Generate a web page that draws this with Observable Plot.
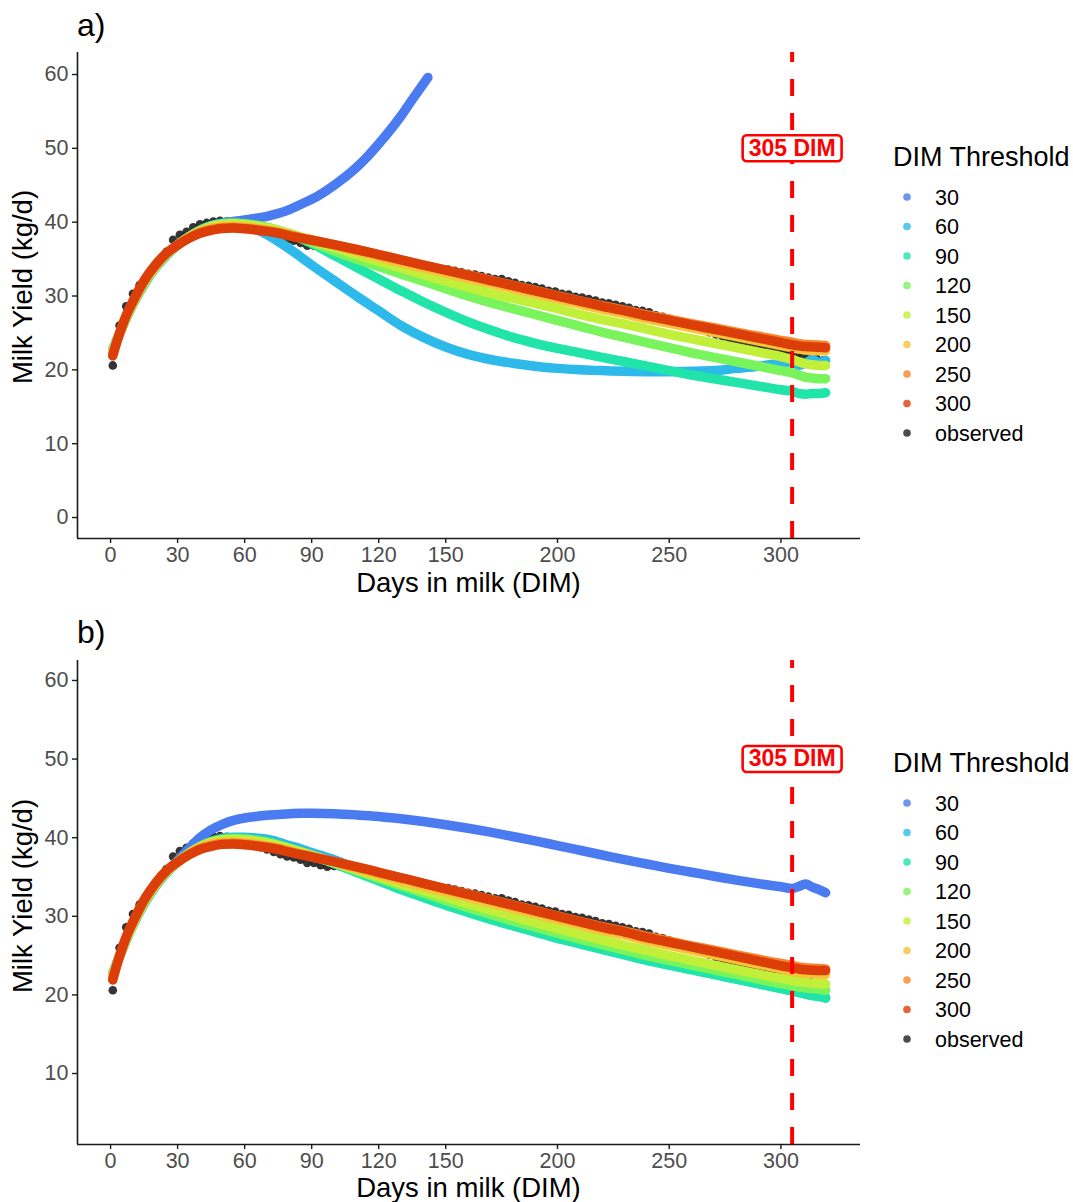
<!DOCTYPE html>
<html><head><meta charset="utf-8">
<script src="https://cdn.jsdelivr.net/npm/d3@7"></script>
<script src="https://cdn.jsdelivr.net/npm/@observablehq/plot@0.6"></script>
<style>
body{margin:0;background:#fff;}
#wrap{position:relative;width:1073px;height:1202px;overflow:hidden;background:#fff;}
#wrap svg{position:absolute;left:0;}
</style></head><body><div id="wrap"></div>
<script>
const FONT = '"Liberation Sans", Arial, Helvetica, sans-serif';
const xTicks = [0, 30, 60, 90, 120, 150, 200, 250, 300];
const yTicksA = [0, 10, 20, 30, 40, 50, 60];
const yTicksB = [10, 20, 30, 40, 50, 60];
const thresholds = ["30", "60", "90", "120", "150", "200", "250", "300"];
const seriesColors = ["#4A7BF0", "#2DBAEB", "#20E4AA", "#7AF45C", "#C2EF3A", "#F8C239", "#F8862C", "#DC3E09"];
const legendLabels = ["30", "60", "90", "120", "150", "200", "250", "300", "observed"];
const legendColors = ["#4A7BF0", "#2DBAEB", "#20E4AA", "#7AF45C", "#C2EF3A", "#F8C239", "#F8862C", "#DC3E09", "#1e1e1e"];
const dimLimit = 305;
const dimLabel = "305 DIM";

// DIM sample points shared by the fitted curves
const dimGrid = [1,3,5,7,10,15,20,25,30, 35,40,45,50,55,60,65,70,75,80,85,90,
  100,110,120,130,140,150,160,170,180,190,200,210,220,230,240,250,260,270,280,290,300,
  305,308,311,314,317,320];
// panel a, threshold 30 (stops early)
const dimA30 = [1,3,5,7,10,15,20,25,30,35,40,45,50,55,60,70,80,85,90,100,110,115,120,130,135,142];
const a30 = [22.7,24.2,25.6,27.0,28.9,31.6,33.8,35.5,36.9,38.0,38.9,39.5,39.9,40.1,40.3,40.8,41.7,42.4,43.1,45.0,47.4,48.9,50.6,54.4,56.6,59.6];
const a60 = [22.7,24.2,25.6,27.0,28.9,31.6,33.8,35.5,36.9,
  38.0,38.9,39.5,39.8,39.9,39.7,39.1,38.3,37.4,36.4,35.3,34.2,
  32.1,30.0,28.0,26.0,24.4,23.1,22.1,21.4,20.9,20.5,20.2,20.0,19.9,19.8,19.75,19.75,19.8,19.9,20.2,20.5,20.9,
  21.1,20.6,20.9,21.4,21.0,21.3];
const a90 = [22.7,24.2,25.6,27.0,28.9,31.6,33.8,35.5,36.9,
  38.0,38.9,39.5,39.8,39.9,39.8,39.6,39.3,38.9,38.4,37.8,37.1,
  35.5,33.9,32.3,30.7,29.2,27.8,26.5,25.4,24.4,23.6,22.9,22.3,21.7,21.1,20.5,19.9,19.3,18.8,18.3,17.8,17.3,
  17.1,16.8,16.7,16.8,16.8,16.9];
const a120 = [22.6,24.2,25.6,27.0,28.9,31.7,33.9,35.6,36.9,
  38.0,38.85,39.45,39.75,39.85,39.75,39.55,39.3,38.9,38.4,37.9,37.3,
  36.1,35.0,34.0,33.0,32.0,31.0,30.0,29.1,28.3,27.5,26.7,25.9,25.1,24.4,23.7,23.0,22.3,21.7,21.1,20.5,19.9,
  19.6,19.3,19.0,18.9,18.8,18.8];
const a150 = [22.5,24.1,25.6,27.1,29.0,31.8,33.9,35.6,36.9,
  38.0,38.8,39.4,39.7,39.8,39.7,39.5,39.25,38.9,38.5,38.0,37.5,
  36.6,35.6,34.7,33.8,32.9,32.0,31.2,30.4,29.7,29.0,28.3,27.5,26.8,26.2,25.5,24.8,24.2,23.6,23.0,22.4,21.8,
  21.4,21.1,20.8,20.7,20.6,20.6];
const a200 = [22.4,24.1,25.7,27.2,29.1,31.9,34.0,35.7,36.9,
  37.9,38.7,39.2,39.4,39.45,39.35,39.2,38.95,38.65,38.3,37.95,37.6,
  36.9,36.1,35.3,34.5,33.8,33.1,32.4,31.7,31.0,30.3,29.6,28.9,28.2,27.6,26.9,26.3,25.7,25.1,24.5,23.9,23.3,
  23.0,22.8,22.7,22.6,22.6,22.6];
const a250 = [22.2,24.0,25.7,27.3,29.2,32.0,34.1,35.75,36.9,
  37.85,38.6,39.0,39.25,39.3,39.2,39.05,38.85,38.6,38.25,37.9,37.6,
  36.95,36.3,35.6,34.9,34.2,33.5,32.85,32.15,31.45,30.75,30.05,29.35,28.7,28.1,27.45,26.85,26.25,25.7,25.1,24.55,24.0,
  23.75,23.55,23.45,23.4,23.35,23.3];
const a300 = [21.9,24.0,25.8,27.4,29.3,32.1,34.2,35.8,36.9,
  37.8,38.5,38.9,39.15,39.2,39.1,38.95,38.75,38.5,38.15,37.85,37.55,
  36.95,36.3,35.6,34.9,34.2,33.5,32.8,32.1,31.4,30.7,30.0,29.3,28.6,28.0,27.3,26.7,26.1,25.5,24.9,24.3,23.7,
  23.4,23.25,23.15,23.1,23.05,23.0];

const b30 = [22.7,24.2,25.6,27.0,28.9,31.6,33.8,35.6,37.1,
  38.6,40.0,41.0,41.7,42.2,42.5,42.7,42.85,42.95,43.05,43.1,43.1,
  43.05,42.9,42.7,42.4,42.05,41.65,41.2,40.7,40.15,39.6,39.0,38.4,37.8,37.2,36.65,36.1,35.6,35.1,34.6,34.15,33.75,
  33.55,33.8,34.1,33.7,33.4,33.0];
const b60 = [22.7,24.2,25.6,27.0,28.9,31.6,33.8,35.5,36.9,
  38.0,38.9,39.5,39.9,40.05,40.05,39.95,39.8,39.45,39.0,38.6,38.1,
  37.2,36.1,35.0,33.8,32.7,31.6,30.6,29.7,28.85,28.05,27.25,26.55,25.85,25.15,24.45,23.85,23.25,22.65,22.05,21.45,20.85,
  20.55,20.35,20.15,19.95,19.85,19.65];
const b90 = [22.7,24.2,25.6,27.0,28.9,31.6,33.8,35.5,36.9,
  38.0,38.9,39.5,39.85,39.95,39.9,39.75,39.5,39.1,38.7,38.2,37.7,
  36.7,35.6,34.5,33.4,32.4,31.4,30.5,29.6,28.8,28.0,27.2,26.5,25.8,25.1,24.4,23.8,23.2,22.6,22.0,21.4,20.8,
  20.5,20.3,20.1,19.9,19.8,19.6];
const b120 = [22.6,24.2,25.6,27.0,28.9,31.7,33.9,35.6,36.9,
  38.0,38.85,39.45,39.75,39.85,39.8,39.65,39.4,39.05,38.65,38.2,37.75,
  36.8,35.8,34.85,33.9,32.95,32.0,31.1,30.25,29.4,28.6,27.85,27.1,26.4,25.7,25.0,24.4,23.8,23.2,22.6,22.0,21.45,
  21.2,21.0,20.9,20.8,20.7,20.6];
const b150 = [22.5,24.1,25.6,27.1,29.0,31.8,33.9,35.6,36.9,
  38.0,38.8,39.4,39.7,39.75,39.7,39.55,39.3,39.0,38.6,38.2,37.75,
  36.85,35.95,35.05,34.15,33.3,32.45,31.6,30.8,30.0,29.2,28.45,27.7,27.0,26.3,25.65,25.0,24.4,23.8,23.2,22.65,22.1,
  21.85,21.7,21.6,21.5,21.45,21.4];
const b200 = [22.4,24.1,25.7,27.2,29.1,31.9,34.0,35.7,36.9,
  37.9,38.7,39.2,39.4,39.45,39.35,39.2,38.95,38.65,38.3,37.95,37.6,
  36.9,36.1,35.3,34.5,33.8,33.1,32.4,31.7,31.0,30.3,29.6,28.9,28.2,27.6,26.9,26.3,25.7,25.1,24.5,23.9,23.3,
  23.0,22.85,22.75,22.7,22.65,22.6];
const b250 = [22.2,24.0,25.7,27.3,29.2,32.0,34.1,35.75,36.9,
  37.85,38.6,39.0,39.25,39.3,39.2,39.05,38.85,38.6,38.25,37.9,37.6,
  36.95,36.3,35.6,34.9,34.2,33.5,32.85,32.15,31.45,30.75,30.05,29.35,28.7,28.1,27.45,26.85,26.25,25.7,25.1,24.55,24.0,
  23.75,23.55,23.45,23.4,23.35,23.3];
const b300 = [21.9,24.0,25.8,27.4,29.3,32.1,34.2,35.8,36.9,
  37.8,38.5,38.9,39.15,39.2,39.1,38.95,38.75,38.5,38.15,37.85,37.55,
  36.95,36.3,35.6,34.9,34.2,33.5,32.8,32.1,31.4,30.7,30.0,29.3,28.6,28.0,27.3,26.7,26.1,25.5,24.9,24.3,23.7,
  23.45,23.3,23.2,23.15,23.1,23.1];

// observed daily milk yield (every 3rd day from DIM 1)
const obsDim = d3.range(1, 320, 3);
const observed = [20.6,26.0,28.6,30.3,31.5,32.6,33.4,34.6,36.0,37.6,
  38.3,38.7,39.3,39.7,39.9,40.1,40.2,40.1,39.8,39.5,
  39.2,39.0,38.8,38.5,38.2,37.9,37.6,37.5,37.2,36.8,
  36.8,36.5,36.3,36.4,36.3,36.2,36.0,35.8,35.6,35.3,
  35.3,35.1,34.8,34.7,34.5,34.2,34.0,33.9,33.7,33.5,
  33.6,33.4,33.2,33.0,32.9,32.7,32.5,32.3,32.3,32.0,
  31.8,31.5,31.4,31.2,31.0,30.7,30.6,30.3,30.2,29.9,
  29.8,29.6,29.4,29.1,29.0,28.8,28.6,28.4,28.1,28.0,
  27.8,27.4,27.2,26.9,26.6,26.3,26.0,25.8,25.5,25.1,
  24.8,24.5,24.2,24.0,23.7,23.5,23.3,23.1,22.9,22.6,
  22.4,22.2,22.0,21.9,21.7,21.5,21.3];

const xDomain = [-14.8, 335.6];

function rowsOf(list) {
  const rows = [];
  list.forEach(([key, dims, vals]) => {
    const n = Math.min(dims.length, vals.length);
    for (let i = 0; i < n; i++) rows.push({key, dim: dims[i], y: vals[i]});
  });
  return rows;
}
const obsRows = obsDim.slice(0, observed.length).map((d, i) => ({dim: d, y: observed[i]}));

function panel({curves, yDomain, yTicks, height, marginTop, marginBottom}) {
  const rows = rowsOf(curves);
  return Plot.plot({
    width: 1073, height, marginLeft: 77, marginRight: 213, marginTop, marginBottom,
    style: {fontFamily: FONT, background: "transparent", overflow: "visible"},
    x: {domain: xDomain, label: null},
    y: {domain: yDomain, label: null},
    color: {domain: thresholds, range: seriesColors},
    marks: [
      Plot.dot(obsRows, {x: "dim", y: "y", r: 4.3, fill: "#1e1e1e", fillOpacity: 0.9, stroke: null}),
      Plot.line(rows, {x: "dim", y: "y", z: "key", stroke: "key", strokeWidth: 9.5,
        strokeLinecap: "round", strokeLinejoin: "round", curve: "monotone-x"}),
      Plot.ruleX([dimLimit], {y1: yDomain[0], y2: yDomain[1], stroke: "#ff0000", strokeWidth: 4, strokeDasharray: "17,17"}),
      Plot.text([{x: dimLimit, y: 50}], {x: "x", y: "y", text: () => dimLabel, fill: "#ff0000",
        fontWeight: "bold", fontSize: 23, fontFamily: FONT}),
      Plot.ruleX([xDomain[0]], {stroke: "#1a1a1a", strokeWidth: 1.6}),
      Plot.ruleY([yDomain[0]], {stroke: "#1a1a1a", strokeWidth: 1.6}),
      Plot.axisX({ticks: xTicks, tickSize: 5, tickPadding: 3, fontSize: 21.5, label: null,
        stroke: "#1a1a1a", fill: "#4d4d4d", strokeWidth: 1.4, tickFormat: d => String(d)}),
      Plot.axisY({ticks: yTicks, tickSize: 5, tickPadding: 4, fontSize: 21.5, label: null,
        stroke: "#1a1a1a", fill: "#4d4d4d", strokeWidth: 1.4, tickFormat: d => String(d)})
    ]
  });
}

const wrap = document.getElementById("wrap");
const pa = panel({
  curves: [["30", dimA30, a30], ["60", dimGrid, a60], ["90", dimGrid, a90], ["120", dimGrid, a120],
           ["150", dimGrid, a150], ["200", dimGrid, a200], ["250", dimGrid, a250], ["300", dimGrid, a300]],
  yDomain: [-2.84, 62.98], yTicks: yTicksA, height: 600, marginTop: 52, marginBottom: 62
});
pa.style.top = "0px";
wrap.appendChild(pa);
const pb = panel({
  curves: [["30", dimGrid, b30], ["60", dimGrid, b60], ["90", dimGrid, b90], ["120", dimGrid, b120],
           ["150", dimGrid, b150], ["200", dimGrid, b200], ["250", dimGrid, b250], ["300", dimGrid, b300]],
  yDomain: [0.97, 62.54], yTicks: yTicksB, height: 602, marginTop: 60, marginBottom: 58
});
pb.style.top = "600px";
wrap.appendChild(pb);

// white rounded box behind the "305 DIM" label
[pa, pb].forEach(svg => {
  try {
    d3.select(svg).selectAll("text").filter(function () { return this.textContent === dimLabel; })
      .each(function () {
        const bb = this.getBBox();
        const rect = document.createElementNS("http://www.w3.org/2000/svg", "rect");
        rect.setAttribute("x", bb.x - 6);
        rect.setAttribute("y", bb.y + 0.5);
        rect.setAttribute("width", bb.width + 12);
        rect.setAttribute("height", bb.height);
        rect.setAttribute("rx", 4);
        rect.setAttribute("fill", "#fff");
        rect.setAttribute("stroke", "#ff0000");
        rect.setAttribute("stroke-width", 2.6);
        const tr = this.getAttribute("transform");
        if (tr) rect.setAttribute("transform", tr);
        this.parentNode.insertBefore(rect, this);
      });
  } catch (e) {}
});

// titles, axis titles and legends
const ov = d3.select(wrap).append("svg").attr("width", 1073).attr("height", 1202)
  .style("top", "0px").style("pointer-events", "none").style("font-family", FONT);
const panelsInfo = [
  {tag: "a)", tagY: 36, xTitleY: 592, yMid: 287, legTitleY: 166, legStart: 197},
  {tag: "b)", tagY: 643, xTitleY: 1197, yMid: 896, legTitleY: 772, legStart: 803}
];
panelsInfo.forEach(p => {
  ov.append("text").attr("x", 77).attr("y", p.tagY).attr("font-size", 32).attr("fill", "#000").text(p.tag);
  ov.append("text").attr("x", 468.5).attr("y", p.xTitleY).attr("text-anchor", "middle")
    .attr("font-size", 27.5).attr("fill", "#000").text("Days in milk (DIM)");
  ov.append("text").attr("transform", `translate(32,${p.yMid}) rotate(-90)`).attr("text-anchor", "middle")
    .attr("font-size", 27.5).attr("fill", "#000").text("Milk Yield (kg/d)");
  ov.append("text").attr("x", 893).attr("y", p.legTitleY).attr("font-size", 27).attr("fill", "#000").text("DIM Threshold");
  legendLabels.forEach((lab, i) => {
    const cy = p.legStart + 29.5 * i;
    ov.append("circle").attr("cx", 907).attr("cy", cy).attr("r", 3.8)
      .attr("fill", legendColors[i]).attr("fill-opacity", 0.8);
    ov.append("text").attr("x", 935).attr("y", cy + 7.6).attr("font-size", 21.5).attr("fill", "#000").text(lab);
  });
});
</script></body></html>
